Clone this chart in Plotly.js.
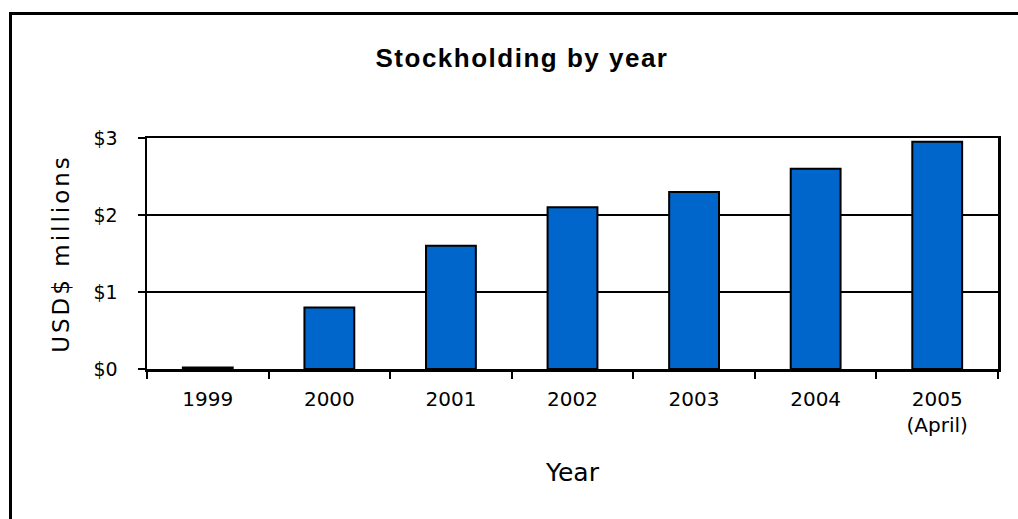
<!DOCTYPE html>
<html><head><meta charset="utf-8">
<script src="https://cdn.plot.ly/plotly-3.0.1.min.js"></script>
<style>html,body{margin:0;padding:0;background:#fff;}#chart{width:1018px;height:519px;}
#chart .gtitle{letter-spacing:1.5px;}
#chart .ytitle{letter-spacing:3px;}
</style>
</head><body><div id="chart"></div>
<script>
const years = ["1999", "2000", "2001", "2002", "2003", "2004", "2005<br>(April)"];
const stockholding = [0.02, 0.8, 1.6, 2.1, 2.3, 2.6, 2.95];
const yTickVals = [0, 1, 2, 3];
const yTickText = ["$0", "$1", "$2", "$3"];

const trace = {
  type: "bar", x: years, y: stockholding,
  marker: {color: "#0066CC", line: {color: "#000", width: 2}},
  width: 0.41, hoverinfo: "none"
};
const W = 1018, H = 519, L = 147, R = 20, T = 138, B = 150;
const pw = W - L - R, ph = H - T - B;
const fx = x => (x - L) / pw, fy = y => 1 - (y - T) / ph;
const FONT = "DejaVu Sans, Verdana, sans-serif";
const layout = {
  width: W, height: H,
  margin: {l: L, r: R, t: T, b: B, pad: 0},
  paper_bgcolor: "#fff", plot_bgcolor: "#fff",
  showlegend: false,
  title: {text: "<b>Stockholding by year</b>", xref: "container", x: 522/W, xanchor: "center", y: 1 - 58/H, yanchor: "middle",
          font: {family: "Liberation Sans, Arial, sans-serif", size: 26, color: "#000"}},
  xaxis: {type: "category", tickson: "boundaries", ticks: "outside", ticklen: 7, tickwidth: 2, tickcolor: "#000",
          showline: true, linecolor: "#000", linewidth: 2.5, mirror: true, showgrid: false,
          ticklabelstandoff: 10,
          tickfont: {family: FONT, size: 20, color: "#000"},
          title: {text: "Year", font: {family: FONT, size: 25, color: "#000"}, standoff: 28},
          fixedrange: true},
  yaxis: {range: [0, 3], tickvals: yTickVals, ticktext: yTickText, ticks: "outside", ticklen: 7, tickwidth: 2, tickcolor: "#000",
          showline: true, linecolor: "#000", linewidth: 2.5, mirror: true,
          showgrid: true, gridcolor: "#000", gridwidth: 2, zeroline: false,
          ticklabelstandoff: 16,
          tickfont: {family: FONT, size: 19, color: "#000"},
          title: {text: "USD$ millions", font: {family: FONT, size: 23, color: "#000"}, standoff: 18},
          fixedrange: true},
  shapes: [{type: "path", xref: "paper", yref: "paper",
            path: `M ${fx(10.5)} ${fy(530)} L ${fx(10.5)} ${fy(13.5)} L ${fx(1030)} ${fy(13.5)}`,
            line: {color: "#000", width: 3}}],
  bargap: 0.59
};
Plotly.newPlot("chart", [trace], layout, {displayModeBar: false, staticPlot: true});
</script></body></html>
